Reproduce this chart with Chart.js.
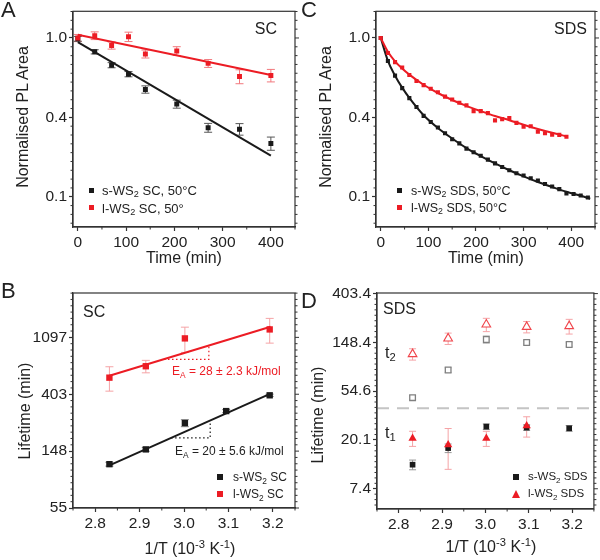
<!DOCTYPE html>
<html>
<head>
<meta charset="utf-8">
<title>WS2 PL</title>
<script src="https://cdn.jsdelivr.net/npm/chart.js@4.4.1/dist/chart.umd.min.js"></script>
<style>
  body { margin: 0; background: #fff; }
  #page { position: relative; width: 600px; height: 560px; overflow: hidden; font-family: "Liberation Sans", Arial, sans-serif; color: #222; }
  canvas { position: absolute; width: 300px; height: 280px; }
  .txt { position: absolute; white-space: nowrap; line-height: 1; }
  .txt sub { font-size: 70%; vertical-align: -0.3em; line-height: 0; }
  .txt sup { font-size: 70%; vertical-align: 0.5em; line-height: 0; }
  .c { transform: translate(-50%, -50%); }
  .l { transform: translate(0, -50%); }
  .r { transform: translate(-100%, -50%); }
  .v { transform: translate(-50%, -50%) rotate(-90deg); }
  .mk { position: absolute; }
  .lettre { font-size: 22px; }
  .titre { font-size: 16px; }
  .note { font-size: 16px; }
  .leg { font-size: 12px; }
</style>
</head>
<body>
<div id="page">
  <canvas id="chartA" width="300" height="280" style="left:0;top:0"></canvas>
  <canvas id="chartC" width="300" height="280" style="left:300px;top:0"></canvas>
  <canvas id="chartB" width="300" height="280" style="left:0;top:280px"></canvas>
  <canvas id="chartD" width="300" height="280" style="left:300px;top:280px"></canvas>

  <!-- lettres des panneaux -->
  <div class="txt lettre" style="left:1px;top:-1px">A</div>
  <div class="txt lettre" style="left:301px;top:-1px">C</div>
  <div class="txt lettre" style="left:1px;top:280px">B</div>
  <div class="txt lettre" style="left:301px;top:290px">D</div>

  <!-- titres des axes -->
  <div class="txt titre c" style="left:184px;top:258px">Time (min)</div>
  <div class="txt titre v" style="left:23px;top:117px">Normalised PL Area</div>
  <div class="txt titre c" style="left:486px;top:258px">Time (min)</div>
  <div class="txt titre v" style="left:326px;top:117px">Normalised PL Area</div>
  <div class="txt titre c" style="left:190px;top:549px">1/T (10<sup>-3</sup> K<sup>-1</sup>)</div>
  <div class="txt titre v" style="left:25px;top:411px">Lifetime (min)</div>
  <div class="txt titre c" style="left:491px;top:547px">1/T (10<sup>-3</sup> K<sup>-1</sup>)</div>
  <div class="txt titre v" style="left:318px;top:415px">Lifetime (min)</div>

  <!-- annotations -->
  <div class="txt note r" style="left:277px;top:29px">SC</div>
  <div class="txt note r" style="left:587px;top:29px">SDS</div>
  <div class="txt note l" style="left:83px;top:312px">SC</div>
  <div class="txt note l" style="left:383px;top:309px">SDS</div>
  <div class="txt note l" style="left:385px;top:353px">t<sub>2</sub></div>
  <div class="txt note l" style="left:385px;top:433px">t<sub>1</sub></div>
  <div class="txt leg l" style="left:172px;top:371px;color:#ec1c24">E<sub>A</sub> = 28 &plusmn; 2.3 kJ/mol</div>
  <div class="txt leg l" style="left:175px;top:451px">E<sub>A</sub> = 20 &plusmn; 5.6 kJ/mol</div>

  <!-- légendes -->
  <div class="mk" style="left:88.5px;top:187.5px;width:5px;height:5px;background:#1a1a1a"></div>
  <div class="txt leg l" style="left:102px;top:190px;font-size:13px">s-WS<sub>2</sub> SC, 50°C</div>
  <div class="mk" style="left:89px;top:205px;width:5px;height:5px;background:#ec1c24"></div>
  <div class="txt leg l" style="left:102px;top:207.5px;font-size:13px">l-WS<sub>2</sub> SC, 50°</div>

  <div class="mk" style="left:397px;top:188px;width:5px;height:5px;background:#1a1a1a"></div>
  <div class="txt leg l" style="left:411px;top:190.5px;font-size:12.5px">s-WS<sub>2</sub> SDS, 50°C</div>
  <div class="mk" style="left:396.5px;top:205px;width:5px;height:5px;background:#ec1c24"></div>
  <div class="txt leg l" style="left:411px;top:207.5px;font-size:12.5px">l-WS<sub>2</sub> SDS, 50°C</div>

  <div class="mk" style="left:216.5px;top:473.5px;width:6px;height:6px;background:#1a1a1a"></div>
  <div class="txt leg l" style="left:233px;top:476.5px">s-WS<sub>2</sub> SC</div>
  <div class="mk" style="left:216.5px;top:491px;width:6px;height:6px;background:#ec1c24"></div>
  <div class="txt leg l" style="left:233px;top:494px">l-WS<sub>2</sub> SC</div>

  <div class="mk" style="left:513px;top:474px;width:6px;height:6px;background:#1a1a1a"></div>
  <div class="txt leg l" style="left:528px;top:477px;font-size:11.5px">s-WS<sub>2</sub> SDS</div>
  <div class="mk" style="left:511.5px;top:490px;width:0;height:0;border-left:4.5px solid transparent;border-right:4.5px solid transparent;border-bottom:8px solid #ec1c24"></div>
  <div class="txt leg l" style="left:528px;top:494px;font-size:11.5px">l-WS<sub>2</sub> SDS</div>
</div>

<script>
// Données panneau A (SC, 50°C)
const timeA = [0, 35, 70, 105, 140, 205, 270, 335, 400];
const sScA = [0.99, 0.84, 0.71, 0.634, 0.523, 0.435, 0.323, 0.317, 0.265];
const sScErrA = [0.03, 0.022, 0.023, 0.021, 0.024, 0.022, 0.018, 0.023, 0.022];
const lScA = [1.0, 1.03, 0.91, 1.016, 0.818, 0.849, 0.726, 0.616, 0.624];
const lScErrA = [0.045, 0.05, 0.041, 0.06, 0.041, 0.047, 0.036, 0.054, 0.049];
const fitTimeA = [0, 400];
const sFitA = [0.948, 0.227];
const lFitA = [1.042, 0.627];

// Données panneau C (SDS, 50°C)
const timeSC = [0, 15, 30, 45, 60, 75, 90, 105, 120, 135, 150, 165, 180, 195, 210, 225, 240, 255, 270, 285, 300, 315, 330, 345, 360, 375, 390, 405, 420, 435];
const sSdsC = [1.0, 0.748, 0.622, 0.532, 0.469, 0.419, 0.375, 0.347, 0.324, 0.301, 0.279, 0.265, 0.248, 0.237, 0.227, 0.216, 0.206, 0.197, 0.189, 0.182, 0.177, 0.171, 0.166, 0.159, 0.154, 0.149, 0.141, 0.140, 0.1375, 0.134];
const timeLC = [0, 15, 30, 45, 60, 75, 90, 105, 120, 135, 150, 165, 180, 195, 210, 225, 240, 255, 270, 285, 300, 315, 330, 345, 360, 375, 390];
const lSdsC = [1.0, 0.828, 0.738, 0.689, 0.627, 0.582, 0.552, 0.528, 0.505, 0.478, 0.461, 0.442, 0.428, 0.398, 0.398, 0.388, 0.354, 0.360, 0.365, 0.343, 0.327, 0.329, 0.307, 0.301, 0.296, 0.295, 0.288];
const fitTimeSC = [0, 15, 30, 45, 60, 90, 120, 150, 180, 210, 240, 270, 300, 330, 360, 390, 420, 440];
const sFitC = [1.0, 0.75, 0.622, 0.535, 0.47, 0.378, 0.322, 0.282, 0.25, 0.226, 0.206, 0.189, 0.175, 0.163, 0.153, 0.144, 0.137, 0.132];
const fitTimeLC = [0, 15, 30, 45, 60, 90, 120, 150, 180, 210, 240, 270, 300, 330, 360, 390];
const lFitC = [1.0, 0.84, 0.745, 0.68, 0.63, 0.555, 0.5, 0.458, 0.425, 0.398, 0.374, 0.355, 0.335, 0.318, 0.303, 0.29];

// Données panneau B (Arrhenius SC)
const invT = [2.832, 2.914, 3.002, 3.095, 3.193];
const sLifeB = [118, 153, 243, 300, 396];
const sErrB = [4, 5, 15, 8, 8];
const lLifeB = [540, 660, 1077, null, 1261];
const lErrB = [114, 72, 235, null, 270];
const fitInvT = [2.832, 3.195];
const sFitB = [115.5, 408];
const lFitB = [559, 1322];
const sGuideX = [2.971, 3.059, 3.059];
const sGuideY = [187.5, 187.5, 254.5];
const lGuideX = [2.955, 3.056, 3.056];
const lGuideY = [745, 745, 951];

// Données panneau D (SDS, t1 et t2)
const sT2 = [47.8, 84.2, 157.6, 148.1, 142.2];
const sT2Err = [2, 4, 12, 5, 5];
const lT2 = [116.7, 160.8, 214, 204, 207];
const lT2Err = [13.5, 18.7, 29, 23.7, 31];
const sT1 = [12.1, 17.0, 26.4, 25.9, 25.5];
const sT1Err = [1.2, 1.5, 1.5, 1.5, 1.5];
const lT1 = [20.8, 18.2, 20.8, 26.8, null];
const lT1Err = [3.2, 7.2, 3.2, 5.5, null];
const sepX = [2.75, 3.25];
const sepY = [38.4, 38.4];

// Graduations
const xTicksTime = [0, 100, 200, 300, 400];
const xLabelsTime = ['0', '100', '200', '300', '400'];
const xTicksInvT = [2.8, 2.9, 3.0, 3.1, 3.2];
const xLabelsInvT = ['2.8', '2.9', '3.0', '3.1', '3.2'];
const lnTicksPL = [-2, -1, 0];
const yLabelsPL = ['0.1', '0.4', '1.0'];
const lnTicksB = [4, 5, 6, 7];
const yLabelsB = ['55', '148', '403', '1097'];
const lnTicksD = [2, 3, 4, 5, 6];
const yLabelsD = ['7.4', '20.1', '54.6', '148.4', '403.4'];

const rouge = '#ec1c24';
const noir = '#1a1a1a';
const police = "'Liberation Sans', Arial, sans-serif";
Chart.defaults.font.family = police;
Chart.defaults.color = '#222';

function points(xs, ys) {
  return xs.map((x, i) => ({ x: x, y: ys[i] }));
}

// Barres d'erreur dessinées avant les marqueurs
const barresErreur = {
  id: 'barresErreur',
  beforeDatasetsDraw(chart) {
    const ctx = chart.ctx, xs = chart.scales.x, ys = chart.scales.y;
    chart.data.datasets.forEach(ds => {
      if (!ds.erreurs) return;
      ctx.save();
      ctx.strokeStyle = ds.couleurErreur;
      ctx.lineWidth = 1;
      ctx.beginPath();
      ds.data.forEach((p, j) => {
        const e = ds.erreurs[j];
        if (p.y == null || e == null) return;
        const x = xs.getPixelForValue(p.x);
        const y1 = ys.getPixelForValue(p.y + e);
        const y2 = ys.getPixelForValue(Math.max(p.y - e, 1e-6));
        const c = ds.chapeau;
        ctx.moveTo(x, y1); ctx.lineTo(x, y2);
        ctx.moveTo(x - c, y1); ctx.lineTo(x + c, y1);
        ctx.moveTo(x - c, y2); ctx.lineTo(x + c, y2);
      });
      ctx.stroke();
      ctx.restore();
    });
  }
};

// Cadre complet + graduations mineures
const cadre = {
  id: 'cadre',
  afterDraw(chart, args, opts) {
    const ctx = chart.ctx, a = chart.chartArea;
    const xs = chart.scales.x, ys = chart.scales.y;
    ctx.save();
    ctx.strokeStyle = '#333';
    ctx.lineWidth = 1.2;
    ctx.strokeRect(a.left, a.top, a.right - a.left, a.bottom - a.top);
    ctx.lineWidth = 1;
    ctx.beginPath();
    const py = ys.ticks.map(t => ys.getPixelForValue(t.value));
    const n = opts.nbY;
    const dy = (py[1] - py[0]) / n;
    for (let k = -80; k <= 80; k++) {
      const y = py[0] + k * dy;
      if (y < a.top - 0.5 || y > a.bottom + 0.5) continue;
      const maj = ((k % n) + n) % n === 0;
      const len = maj ? 4 : 2.5;
      if (!maj) { ctx.moveTo(a.left, y); ctx.lineTo(a.left - len, y); }
      ctx.moveTo(a.right, y); ctx.lineTo(a.right + len, y);
    }
    const px = xs.ticks.map(t => xs.getPixelForValue(t.value));
    const dx = (px[1] - px[0]) / 2;
    for (let k = -10; k <= 20; k++) {
      const x = px[0] + k * dx;
      if (x < a.left - 0.5 || x > a.right + 0.5) continue;
      if (k % 2 !== 0) { ctx.moveTo(x, a.bottom); ctx.lineTo(x, a.bottom + 2.5); }
    }
    ctx.stroke();
    ctx.restore();
  }
};

function axeX(min, max, ticks, labels, hauteur) {
  return {
    type: 'linear', min: min, max: max, bounds: 'data',
    afterBuildTicks: s => { s.ticks = ticks.map(v => ({ value: v })); },
    afterFit: s => { s.height = hauteur; },
    ticks: { autoSkip: false, maxRotation: 0, padding: 2, color: '#222', font: { size: 15.5 }, callback: (v, i) => labels[i] },
    grid: { drawOnChartArea: false, drawTicks: true, tickLength: 4, tickWidth: 1.2, tickColor: '#333' },
    border: { display: true, color: '#333', width: 1.2 }
  };
}

function axeY(lnMin, lnMax, lnTicks, labels, largeur) {
  return {
    type: 'logarithmic', min: Math.exp(lnMin), max: Math.exp(lnMax), bounds: 'data',
    afterBuildTicks: s => { s.ticks = lnTicks.map(n => ({ value: Math.exp(n) })); },
    afterFit: s => { s.width = largeur; },
    ticks: { autoSkip: false, padding: 2, color: '#222', font: { size: 15.5 }, callback: (v, i) => labels[i] },
    grid: { drawOnChartArea: false, drawTicks: true, tickLength: 4, tickWidth: 1.2, tickColor: '#333' },
    border: { display: true, color: '#333', width: 1.2 }
  };
}

function options(x, y, haut) {
  return {
    responsive: false,
    animation: false,
    layout: { padding: { top: haut, right: 5, left: 0, bottom: 0 } },
    plugins: { legend: { display: false }, tooltip: { enabled: false }, cadre: { nbY: 9 } },
    scales: { x: x, y: y }
  };
}

// Panneau A
new Chart(document.getElementById('chartA'), {
  type: 'scatter',
  data: {
    datasets: [
      { data: points(timeA, lScA), pointStyle: 'rect', pointRadius: 3.5, backgroundColor: rouge, borderWidth: 0,
        erreurs: lScErrA, couleurErreur: '#f2787d', chapeau: 4 },
      { data: points(timeA, sScA), pointStyle: 'rect', pointRadius: 3.5, backgroundColor: noir, borderWidth: 0,
        erreurs: sScErrA, couleurErreur: '#555', chapeau: 4 },
      { data: points(fitTimeA, lFitA), showLine: true, pointRadius: 0, borderColor: rouge, borderWidth: 2 },
      { data: points(fitTimeA, sFitA), showLine: true, pointRadius: 0, borderColor: noir, borderWidth: 2 }
    ]
  },
  options: options(axeX(-10, 450, xTicksTime, xLabelsTime, 53), axeY(-2.381, 0.336, lnTicksPL, yLabelsPL, 73), 6),
  plugins: [barresErreur, cadre]
});

// Panneau C
new Chart(document.getElementById('chartC'), {
  type: 'scatter',
  data: {
    datasets: [
      { data: points(timeLC, lSdsC), pointStyle: 'rect', pointRadius: 2.9, backgroundColor: rouge, borderWidth: 0 },
      { data: points(timeSC, sSdsC), pointStyle: 'rect', pointRadius: 2.9, backgroundColor: noir, borderWidth: 0 },
      { data: points(fitTimeLC, lFitC), showLine: true, pointRadius: 0, borderColor: rouge, borderWidth: 2,
        cubicInterpolationMode: 'monotone' },
      { data: points(fitTimeSC, sFitC), showLine: true, pointRadius: 0, borderColor: noir, borderWidth: 2,
        cubicInterpolationMode: 'monotone' }
    ]
  },
  options: options(axeX(-10, 450, xTicksTime, xLabelsTime, 53), axeY(-2.381, 0.336, lnTicksPL, yLabelsPL, 76), 6),
  plugins: [barresErreur, cadre]
});

// Panneau B
new Chart(document.getElementById('chartB'), {
  type: 'scatter',
  data: {
    datasets: [
      { data: points(invT, lLifeB), pointStyle: 'rect', pointRadius: 4.5, backgroundColor: rouge, borderWidth: 0,
        erreurs: lErrB, couleurErreur: '#f5a3a6', chapeau: 4 },
      { data: points(invT, sLifeB), pointStyle: 'rect', pointRadius: 4.5, backgroundColor: noir, borderWidth: 0,
        erreurs: sErrB, couleurErreur: '#888', chapeau: 4 },
      { data: points(fitInvT, lFitB), showLine: true, pointRadius: 0, borderColor: rouge, borderWidth: 2 },
      { data: points(fitInvT, sFitB), showLine: true, pointRadius: 0, borderColor: noir, borderWidth: 2 },
      { data: points(lGuideX, lGuideY), showLine: true, pointRadius: 0, borderColor: rouge, borderWidth: 1.2, borderDash: [1.5, 2.5] },
      { data: points(sGuideX, sGuideY), showLine: true, pointRadius: 0, borderColor: noir, borderWidth: 1.2, borderDash: [1.5, 2.5] }
    ]
  },
  options: options(axeX(2.75, 3.25, xTicksInvT, xLabelsInvT, 52), axeY(4, 7.78, lnTicksB, yLabelsB, 73), 13),
  plugins: [barresErreur, cadre]
});

// Panneau D
new Chart(document.getElementById('chartD'), {
  type: 'scatter',
  data: {
    datasets: [
      { data: points(invT, lT1), pointStyle: 'triangle', pointRadius: 4.8, backgroundColor: rouge, borderWidth: 0,
        erreurs: lT1Err, couleurErreur: '#f5a3a6', chapeau: 3.5 },
      { data: points(invT, sT1), pointStyle: 'rect', pointRadius: 4, backgroundColor: noir, borderWidth: 0,
        erreurs: sT1Err, couleurErreur: '#999', chapeau: 3.5 },
      { data: points(invT, lT2), pointStyle: 'triangle', pointRadius: 5, backgroundColor: '#fff', borderColor: '#f0454b', borderWidth: 1.1,
        erreurs: lT2Err, couleurErreur: '#f5a3a6', chapeau: 3.5 },
      { data: points(invT, sT2), pointStyle: 'rect', pointRadius: 4, backgroundColor: '#fff', borderColor: '#808080', borderWidth: 1.3,
        erreurs: sT2Err, couleurErreur: '#bbb', chapeau: 3.5 },
      { data: points(sepX, sepY), showLine: true, pointRadius: 0, borderColor: '#c4c4c4', borderWidth: 2, borderDash: [12, 8] }
    ]
  },
  options: options(axeX(2.75, 3.25, xTicksInvT, xLabelsInvT, 51), axeY(1.585, 6.012, lnTicksD, yLabelsD, 77), 13),
  plugins: [barresErreur, cadre]
});
</script>
</body>
</html>
